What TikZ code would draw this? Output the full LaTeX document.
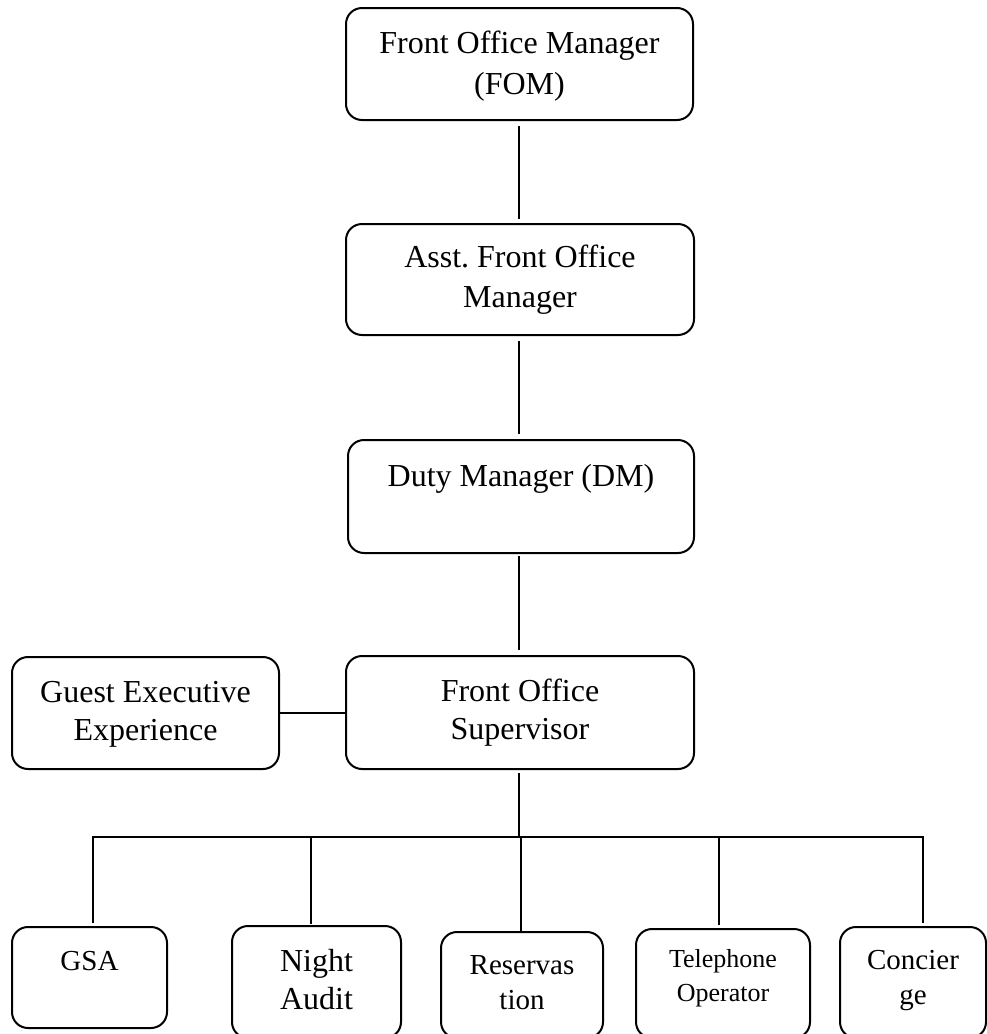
\documentclass[tikz,border=0pt]{standalone}
\usepackage{fontspec}
\setmainfont{Liberation Serif}
\frenchspacing
\tikzset{
  orgbox/.style={draw, line width=2pt, rounded corners=16pt, inner sep=0pt},
  lbl/.style={anchor=north, inner sep=0pt, align=center},
  conn/.style={line width=1.8pt}
}
% #1 box name, #2 first baseline below top, #3 font size, #4 line spacing, #5 text
\newcommand{\boxlabel}[5]{%
  \node[lbl, font=\fontsize{#3pt}{#4pt}\selectfont] (#1-t) at (#1.north) {\rule{0pt}{#2pt}#5};}
\begin{document}
\begin{tikzpicture}[x=1pt,y=-1pt]
\useasboundingbox (0,0) rectangle (987,1034);
\clip (0,0) rectangle (987,1034);

% boxes
\node[orgbox, minimum width=347pt, minimum height=112pt] (fom)  at (519.5,64) {};
\node[orgbox, minimum width=348pt, minimum height=111pt] (afom) at (520,279.5) {};
\node[orgbox, minimum width=346pt, minimum height=113pt] (dm)   at (521,496.5) {};
\node[orgbox, minimum width=348pt, minimum height=113pt] (fos)  at (520,712.5) {};
\node[orgbox, minimum width=267pt, minimum height=112pt] (gee)  at (145.5,713) {};
\node[orgbox, minimum width=155pt, minimum height=101pt] (gsa)  at (89.5,977.5) {};
\node[orgbox, minimum width=169pt, minimum height=112pt] (na)   at (316.5,982) {};
\node[orgbox, minimum width=162pt, minimum height=106pt] (res)  at (522,985) {};
\node[orgbox, minimum width=174pt, minimum height=109pt] (tel)  at (723,983.5) {};
\node[orgbox, minimum width=146pt, minimum height=111pt] (con)  at (913,982.5) {};

% labels
\boxlabel{fom}{46}{32}{41}{Front Office Manager\\(FOM)}
\boxlabel{afom}{44}{32}{40}{Asst. Front Office\\Manager}
\boxlabel{dm}{47}{32}{40}{Duty Manager (DM)}
\boxlabel{fos}{46}{32}{38}{Front Office\\Supervisor}
\boxlabel{gee}{46}{32}{38}{Guest Executive\\Experience}
\boxlabel{gsa}{44}{29}{35}{GSA}
\boxlabel{na}{46}{32}{38}{Night\\Audit}
\boxlabel{res}{43}{29}{35}{Reservas\\tion}
\boxlabel{tel}{39}{26}{34}{Telephone\\Operator}
\boxlabel{con}{43}{29}{35}{Concier\\ge}

% spine and bus coordinates
\coordinate (spine) at (519,0);
\coordinate (bus) at (519,837);
\coordinate (bl) at (93,837);
\coordinate (br) at (923,837);
\coordinate (d2) at (311,837);
\coordinate (d3) at (521,837);
\coordinate (d4) at (719,837);

% connectors
\draw[conn, shorten <=5pt, shorten >=4pt] (spine |- fom.south) -- (spine |- afom.north);
\draw[conn, shorten <=5pt, shorten >=5pt] (spine |- afom.south) -- (spine |- dm.north);
\draw[conn, shorten <=2pt, shorten >=5pt] (spine |- dm.south) -- (spine |- fos.north);
\draw[conn] (gee.east) -- (gee.east -| fos.west);
\draw[conn, shorten <=3pt] (bus |- fos.south) -- (bus);
\draw[conn, shorten <=3pt, shorten >=3pt] (bl |- gsa.north) -- (bl) -- (br) -- (br |- con.north);
\draw[conn, shorten >=1pt] (d2) -- (d2 |- na.north);
\draw[conn] (d3) -- (d3 |- res.north);
\draw[conn, shorten >=3pt] (d4) -- (d4 |- tel.north);
\end{tikzpicture}
\end{document}
